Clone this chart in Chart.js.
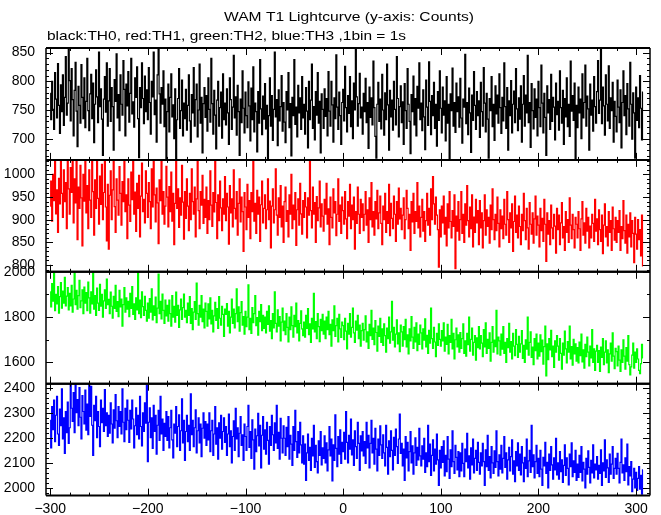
<!DOCTYPE html>
<html>
<head>
<meta charset="utf-8">
<script src="https://cdn.jsdelivr.net/npm/chart.js@4.4.1/dist/chart.umd.min.js"></script>
<style>
  html, body { margin: 0; padding: 0; background: #fff; }
  canvas { display: block; }
</style>
</head>
<body>
<canvas id="lightcurve" width="661" height="515"></canvas>
<script>
const titleText = "WAM T1 Lightcurve (y-axis: Counts)";
const subtitleText = "black:TH0, red:TH1, green:TH2, blue:TH3 ,1bin = 1s";

// time of first bin (s), 1 bin = 1 s
const binStart = -300;
const binSize = 1;

// counts per bin (20 bins per row)
const th0Counts = [
  779, 733, 800, 751, 716, 815, 769, 736, 831, 758, 709, 794, 747, 811, 723, 772, 843, 741, 762, 858,
  801, 731, 822, 768, 705, 784, 833, 748, 686, 791, 758, 727, 829, 772, 735, 806, 719, 765, 840, 749,
  714, 778, 812, 735, 797, 693, 760, 820, 773, 728, 851, 756, 787, 734, 671, 769, 808, 746, 832, 722,
  766, 822, 730, 789, 756, 680, 803, 765, 848, 736, 777, 714, 811, 760, 741, 836, 786, 705, 795, 757,
  817, 729, 779, 840, 743, 764, 720, 806, 772, 825, 735, 667, 789, 754, 832, 770, 726, 809, 747, 785,
  733, 824, 763, 708, 800, 773, 851, 742, 767, 694, 811, 858, 778, 727, 789, 760, 818, 721, 769, 664,
  747, 795, 712, 772, 813, 738, 759, 700, 787, 664, 733, 770, 822, 718, 749, 802, 705, 762, 735, 786,
  715, 758, 811, 731, 694, 777, 745, 824, 722, 768, 795, 703, 750, 830, 727, 772, 675, 761, 789, 737,
  775, 713, 806, 751, 729, 840, 761, 708, 784, 741, 682, 767, 800, 722, 754, 781, 701, 813, 733, 762,
  724, 787, 745, 690, 806, 768, 716, 755, 845, 736, 773, 706, 793, 747, 671, 769, 728, 818, 753, 710,
  781, 740, 719, 799, 757, 696, 788, 733, 825, 712, 762, 747, 677, 782, 727, 838, 752, 707, 774, 734,
  796, 717, 758, 664, 740, 806, 722, 775, 697, 751, 851, 738, 768, 688, 785, 731, 756, 810, 713, 763,
  729, 693, 782, 750, 815, 719, 761, 670, 772, 740, 838, 725, 755, 703, 793, 745, 771, 716, 808, 736,
  760, 708, 789, 748, 684, 800, 733, 767, 830, 718, 756, 698, 782, 741, 815, 727, 765, 675, 778, 751,
  718, 787, 739, 770, 705, 817, 748, 722, 800, 759, 694, 771, 735, 846, 755, 716, 781, 740, 690, 763,
  786, 731, 826, 754, 712, 775, 744, 808, 721, 766, 700, 797, 750, 862, 773, 722, 761, 814, 736, 755,
  708, 779, 747, 805, 728, 763, 683, 790, 737, 771, 724, 835, 754, 704, 666, 760, 798, 730, 769, 717,
  812, 750, 706, 780, 733, 830, 759, 680, 784, 738, 767, 715, 800, 751, 724, 843, 770, 703, 756, 792,
  728, 764, 690, 796, 749, 718, 822, 760, 730, 674, 777, 747, 809, 724, 770, 705, 791, 753, 832, 733,
  762, 714, 785, 738, 681, 802, 755, 723, 834, 765, 707, 775, 740, 798, 718, 760, 687, 782, 732, 818,
  753, 710, 790, 741, 766, 696, 808, 727, 760, 665, 778, 749, 823, 722, 763, 711, 797, 747, 773, 720,
  805, 736, 692, 769, 755, 847, 726, 763, 707, 788, 745, 676, 776, 732, 817, 758, 716, 782, 740, 766,
  702, 798, 747, 722, 824, 762, 712, 779, 734, 666, 770, 749, 808, 721, 760, 697, 792, 743, 776, 727,
  813, 754, 709, 772, 731, 832, 756, 718, 789, 680, 766, 740, 801, 710, 760, 783, 728, 822, 752, 714,
  771, 734, 792, 694, 760, 810, 722, 776, 745, 845, 728, 763, 685, 796, 749, 717, 787, 737, 769, 705,
  800, 754, 721, 828, 762, 710, 779, 737, 671, 792, 745, 768, 716, 812, 730, 772, 755, 698, 797, 742,
  765, 715, 818, 754, 727, 784, 690, 770, 738, 806, 721, 760, 704, 835, 748, 775, 732, 797, 665, 758,
  719, 790, 745, 769, 700, 813, 736, 763, 828, 722, 774, 752, 680, 795, 741, 767, 713, 808, 756, 727,
  782, 836, 744, 767, 858, 726, 790, 757, 706, 811, 760, 731, 827, 718, 771, 749, 798, 694, 765, 739,
  712, 802, 755, 728, 785, 684, 763, 818, 740, 775, 707, 796, 752, 722, 833, 760, 699, 780, 745, 666,
  790, 732, 771, 719, 810, 753, 698, 781
];

const th1Counts = [
  930, 985, 897, 1000, 942, 1032, 913, 966, 872, 991, 935, 1032, 958, 905, 1010, 940, 982, 880, 1032, 968,
  912, 1015, 960, 1032, 893, 990, 937, 1032, 856, 972, 925, 1020, 948, 842, 1000, 941, 1032, 915, 975, 880,
  1010, 943, 905, 1032, 962, 866, 988, 925, 1032, 947, 890, 996, 934, 1022, 900, 960, 1032, 928, 853, 978,
  835, 954, 1008, 900, 966, 1032, 929, 872, 990, 943, 910, 1017, 958, 888, 984, 940, 1032, 918, 955, 858,
  990, 932, 896, 1005, 944, 1032, 912, 961, 874, 980, 925, 998, 862, 952, 1025, 918, 945, 893, 1008, 958,
  905, 982, 940, 880, 1012, 928, 1032, 955, 895, 970, 937, 847, 988, 942, 1030, 912, 962, 890, 930, 1018,
  950, 884, 973, 918, 1005, 897, 958, 845, 936, 1032, 925, 968, 883, 948, 910, 1020, 939, 857, 962, 903,
  990, 930, 876, 958, 900, 1012, 940, 912, 972, 862, 946, 1032, 920, 880, 962, 932, 998, 892, 945, 905,
  972, 870, 942, 900, 1008, 932, 885, 960, 917, 1032, 938, 858, 955, 898, 985, 926, 876, 946, 912, 995,
  898, 958, 928, 846, 975, 915, 946, 884, 1010, 925, 902, 962, 866, 936, 990, 895, 950, 918, 830, 960,
  928, 878, 978, 905, 942, 858, 960, 918, 1030, 897, 936, 870, 965, 912, 950, 852, 933, 985, 893, 925,
  955, 880, 922, 990, 900, 941, 838, 930, 968, 893, 922, 1012, 910, 866, 948, 905, 975, 884, 930, 850,
  940, 972, 896, 920, 862, 955, 912, 1000, 880, 932, 900, 960, 843, 922, 946, 888, 980, 913, 868, 942,
  905, 960, 928, 860, 948, 910, 1032, 920, 882, 972, 912, 938, 850, 951, 898, 926, 985, 884, 935, 908,
  875, 945, 912, 980, 890, 924, 845, 950, 905, 882, 968, 915, 940, 865, 912, 990, 896, 932, 870, 950,
  920, 890, 962, 902, 858, 940, 908, 978, 880, 932, 900, 950, 835, 918, 892, 972, 912, 870, 945, 905,
  935, 876, 912, 962, 888, 922, 850, 948, 900, 982, 884, 918, 866, 940, 902, 965, 880, 915, 952, 892,
  845, 930, 900, 958, 872, 918, 892, 978, 865, 936, 903, 880, 952, 912, 852, 940, 890, 970, 902, 925,
  878, 910, 948, 858, 900, 965, 925, 880, 912, 832, 940, 895, 958, 870, 918, 896, 982, 882, 930, 862,
  905, 945, 875, 918, 852, 898, 958, 888, 925, 866, 968, 900, 995, 935, 890, 950, 910, 878, 795, 922,
  862, 930, 893, 952, 868, 905, 842, 935, 882, 962, 896, 860, 920, 885, 955, 792, 908, 875, 940, 855,
  900, 962, 870, 912, 850, 935, 888, 975, 898, 862, 928, 880, 955, 840, 906, 872, 945, 893, 920, 845,
  942, 882, 915, 838, 898, 955, 866, 922, 885, 905, 848, 932, 878, 968, 900, 856, 912, 876, 950, 892,
  840, 922, 880, 908, 858, 945, 890, 866, 962, 900, 850, 915, 882, 935, 830, 896, 952, 872, 910, 860,
  930, 885, 845, 912, 876, 958, 898, 856, 925, 882, 835, 938, 890, 868, 915, 848, 902, 952, 866, 908,
  888, 840, 925, 876, 903, 852, 945, 890, 808, 915, 868, 898, 845, 932, 882, 858, 912, 886, 826, 925,
  878, 910, 845, 893, 938, 860, 885, 832, 918, 872, 900, 850, 948, 888, 858, 912, 878, 838, 905, 890,
  860, 918, 880, 832, 902, 940, 866, 893, 848, 925, 875, 905, 838, 886, 860, 912, 892, 852, 945, 875,
  902, 845, 922, 878, 852, 910, 825, 888, 935, 862, 885, 842, 918, 872, 898, 832, 928, 880, 855, 905,
  850, 898, 872, 920, 832, 885, 858, 942, 876, 848, 910, 826, 890, 862, 915, 840, 898, 870, 805, 905,
  868, 835, 900, 856, 878, 820, 910, 798
];

const th2Counts = [
  1912, 1845, 1948, 1870, 2000, 1828, 1900, 1858, 1935, 1818, 1890, 1952, 1840, 1915, 1862, 1975, 1850, 1893, 1930, 1832,
  1905, 1850, 1940, 1822, 1880, 2000, 1855, 1918, 1835, 1895, 1962, 1842, 1872, 1920, 1815, 1932, 1862, 1908, 1828, 1955,
  1885, 1818, 1912, 1858, 2000, 1835, 1895, 1808, 1928, 1862, 1830, 1945, 1848, 1900, 1800, 1872, 1920, 1838, 1968, 1855,
  1878, 1815, 1910, 1848, 1795, 1892, 1838, 1940, 1825, 1868, 1802, 1918, 1845, 1880, 1760, 1855, 1930, 1822, 1885, 1835,
  1870, 1802, 1905, 1838, 1935, 1812, 1858, 1790, 1885, 1832, 2000, 1815, 1875, 1798, 1912, 1846, 1808, 1892, 1830, 1782,
  1862, 1795, 1882, 1822, 1925, 1788, 1850, 1808, 1888, 1775, 1840, 1990, 1815, 1870, 1792, 1902, 1830, 1772, 1875, 1805,
  1852, 1782, 1875, 1815, 1760, 1895, 1800, 1848, 1778, 1910, 1808, 1852, 1755, 1832, 1880, 1790, 1842, 1902, 1800, 1830,
  1775, 1862, 1808, 1890, 1772, 1838, 1745, 1822, 1868, 1790, 1950, 1815, 1765, 1852, 1800, 1895, 1780, 1835, 1752, 1862,
  1825, 1760, 1858, 1792, 1885, 1770, 1830, 1735, 1805, 1865, 1785, 1838, 1750, 1890, 1795, 1765, 1848, 1812, 1715, 1835,
  1812, 1860, 1760, 1825, 1730, 1800, 1880, 1772, 1835, 1752, 1815, 1925, 1780, 1845, 1738, 1820, 1868, 1765, 1802, 1725,
  1825, 1758, 1800, 1942, 1745, 1795, 1728, 1842, 1775, 1815, 1895, 1762, 1798, 1720, 1825, 1780, 1855, 1740, 1808, 1750,
  1800, 1730, 1825, 1768, 1850, 1738, 1785, 1705, 1815, 1752, 1912, 1772, 1735, 1832, 1760, 1802, 1695, 1778, 1840, 1740,
  1782, 1722, 1815, 1755, 1690, 1800, 1745, 1845, 1762, 1712, 1808, 1758, 1862, 1730, 1785, 1695, 1772, 1828, 1748, 1718,
  1778, 1712, 1808, 1750, 1838, 1722, 1770, 1688, 1795, 1748, 1905, 1735, 1780, 1705, 1815, 1758, 1692, 1790, 1740, 1812,
  1725, 1782, 1705, 1800, 1745, 1825, 1722, 1768, 1672, 1788, 1740, 1850, 1715, 1762, 1795, 1690, 1812, 1748, 1710, 1778,
  1762, 1700, 1795, 1738, 1660, 1772, 1725, 1815, 1712, 1755, 1840, 1730, 1688, 1782, 1742, 1808, 1705, 1765, 1672, 1740,
  1772, 1698, 1745, 1805, 1690, 1735, 1662, 1768, 1718, 1830, 1702, 1752, 1678, 1785, 1732, 1650, 1760, 1715, 1795, 1688,
  1748, 1675, 1770, 1718, 1645, 1752, 1705, 1800, 1685, 1735, 1870, 1698, 1755, 1668, 1725, 1788, 1682, 1730, 1648, 1765,
  1735, 1672, 1758, 1700, 1790, 1668, 1722, 1638, 1748, 1695, 1802, 1712, 1662, 1755, 1690, 1775, 1652, 1725, 1680, 1765,
  1730, 1660, 1748, 1698, 1792, 1668, 1720, 1640, 1742, 1685, 1840, 1705, 1662, 1755, 1690, 1625, 1728, 1675, 1770, 1702,
  1672, 1740, 1695, 1775, 1650, 1712, 1680, 1768, 1638, 1718, 1688, 1790, 1660, 1728, 1615, 1700, 1752, 1668, 1722, 1645,
  1732, 1662, 1705, 1770, 1640, 1695, 1628, 1728, 1678, 1800, 1650, 1702, 1752, 1632, 1688, 1718, 1610, 1708, 1665, 1758,
  1660, 1718, 1685, 1625, 1745, 1668, 1775, 1640, 1702, 1662, 1730, 1605, 1688, 1758, 1645, 1698, 1670, 1830, 1638, 1712,
  1695, 1632, 1725, 1658, 1758, 1640, 1688, 1600, 1705, 1665, 1772, 1645, 1692, 1615, 1728, 1672, 1630, 1745, 1680, 1622,
  1715, 1645, 1682, 1740, 1618, 1675, 1600, 1700, 1658, 1800, 1632, 1688, 1735, 1622, 1668, 1590, 1705, 1652, 1725, 1615,
  1685, 1628, 1722, 1648, 1698, 1592, 1670, 1760, 1540, 1682, 1612, 1705, 1655, 1742, 1625, 1672, 1578, 1695, 1645, 1718,
  1672, 1610, 1705, 1640, 1570, 1685, 1632, 1738, 1660, 1598, 1692, 1645, 1760, 1615, 1670, 1588, 1702, 1638, 1682, 1605,
  1665, 1598, 1690, 1630, 1725, 1602, 1655, 1575, 1680, 1625, 1712, 1645, 1585, 1672, 1620, 1745, 1600, 1660, 1565, 1650,
  1675, 1600, 1652, 1560, 1668, 1622, 1705, 1590, 1645, 1695, 1598, 1655, 1555, 1638, 1685, 1605, 1730, 1628, 1572, 1662,
  1648, 1585, 1672, 1610, 1560, 1655, 1600, 1700, 1628, 1570, 1665, 1605, 1718, 1590, 1545, 1580, 1632, 1685, 1575, 1645,
  1600, 1660, 1615, 1565, 1550, 1595, 1680, 1620
];

const th3Counts = [
  2270, 2160, 2325, 2232, 2350, 2185, 2290, 2365, 2215, 2170, 2315, 2248, 2395, 2195, 2280, 2138, 2305, 2220, 2342, 2178,
  2240, 2416, 2318, 2265, 2380, 2220, 2416, 2300, 2352, 2248, 2400, 2282, 2195, 2368, 2305, 2255, 2390, 2230, 2335, 2212,
  2416, 2285, 2405, 2250, 2130, 2330, 2268, 2365, 2200, 2305, 2245, 2165, 2350, 2260, 2318, 2225, 2392, 2248, 2300, 2205,
  2290, 2218, 2340, 2255, 2180, 2312, 2238, 2372, 2268, 2200, 2325, 2245, 2305, 2215, 2395, 2262, 2185, 2318, 2232, 2350,
  2270, 2182, 2310, 2235, 2350, 2275, 2160, 2248, 2320, 2212, 2290, 2195, 2365, 2245, 2168, 2300, 2225, 2340, 2258, 2410,
  2105, 2262, 2320, 2200, 2280, 2158, 2330, 2225, 2290, 2135, 2250, 2310, 2190, 2365, 2215, 2275, 2150, 2258, 2205, 2305,
  2190, 2285, 2160, 2240, 2310, 2192, 2120, 2255, 2218, 2325, 2165, 2245, 2292, 2150, 2228, 2355, 2180, 2270, 2110, 2225,
  2290, 2185, 2250, 2150, 2375, 2212, 2270, 2165, 2240, 2312, 2140, 2228, 2280, 2180, 2255, 2125, 2238, 2300, 2198, 2265,
  2170, 2255, 2192, 2300, 2145, 2228, 2270, 2130, 2215, 2325, 2175, 2240, 2115, 2260, 2198, 2290, 2155, 2225, 2280, 2182,
  2245, 2130, 2215, 2295, 2165, 2228, 2100, 2205, 2268, 2150, 2318, 2195, 2240, 2125, 2218, 2285, 2170, 2212, 2110, 2255,
  2205, 2150, 2245, 2330, 2162, 2225, 2118, 2272, 2192, 2075, 2235, 2145, 2208, 2298, 2168, 2250, 2080, 2210, 2285, 2155,
  2232, 2135, 2262, 2190, 2095, 2245, 2170, 2290, 2212, 2150, 2260, 2180, 2330, 2158, 2222, 2115, 2278, 2198, 2140, 2248,
  2198, 2130, 2242, 2165, 2285, 2115, 2210, 2175, 2090, 2245, 2150, 2310, 2185, 2122, 2225, 2140, 2262, 2172, 2100, 2208,
  2095, 2175, 2030, 2140, 2215, 2110, 2162, 2070, 2198, 2128, 2250, 2082, 2170, 2105, 2060, 2188, 2130, 2225, 2092, 2160,
  2118, 2208, 2100, 2180, 2068, 2152, 2245, 2128, 2195, 2028, 2172, 2110, 2292, 2158, 2085, 2205, 2135, 2232, 2098, 2182,
  2145, 2222, 2115, 2305, 2182, 2100, 2210, 2155, 2275, 2132, 2192, 2090, 2228, 2165, 2118, 2262, 2178, 2070, 2208, 2148,
  2225, 2128, 2185, 2098, 2262, 2160, 2210, 2080, 2178, 2270, 2140, 2198, 2095, 2238, 2155, 2068, 2195, 2130, 2248, 2172,
  2118, 2212, 2140, 2088, 2250, 2162, 2055, 2188, 2125, 2228, 2150, 2072, 2202, 2130, 2235, 2165, 2098, 2195, 2295, 2138,
  2178, 2088, 2155, 2030, 2205, 2120, 2182, 2068, 2145, 2225, 2100, 2168, 2055, 2140, 2200, 2090, 2162, 2112, 2238, 2128,
  2088, 2168, 2115, 2198, 2062, 2140, 2085, 2250, 2105, 2175, 2050, 2130, 2192, 2068, 2155, 2095, 2215, 2112, 2010, 2150,
  2080, 2165, 2102, 2188, 2048, 2130, 2065, 2205, 2115, 2038, 2152, 2085, 2228, 2105, 2058, 2170, 2122, 2072, 2145, 2045,
  2140, 2068, 2178, 2098, 2045, 2155, 2105, 2218, 2080, 2128, 2035, 2160, 2092, 2195, 2060, 2118, 2150, 2070, 2182, 2102,
  2055, 2140, 2088, 2178, 2105, 2010, 2152, 2085, 2210, 2070, 2125, 2040, 2165, 2100, 2058, 2148, 2082, 2228, 2105, 2048,
  2132, 2075, 2170, 2060, 2118, 2205, 2082, 2140, 2035, 2112, 2162, 2068, 2125, 2192, 2055, 2108, 2025, 2145, 2088, 2180,
  2070, 2135, 2052, 2165, 2100, 2025, 2122, 2078, 2195, 2045, 2108, 2150, 2062, 2250, 2085, 2132, 2040, 2105, 2170, 2058,
  2118, 2045, 2150, 2075, 2010, 2122, 2088, 2182, 2058, 2102, 2000, 2135, 2070, 2165, 2092, 2035, 2120, 2072, 2198, 2052,
  2100, 2035, 2145, 2065, 2112, 2022, 2090, 2172, 2050, 2120, 2078, 2012, 2135, 2085, 2180, 2045, 2108, 2062, 2150, 2030,
  2095, 2042, 2130, 2062, 2165, 2028, 2102, 2075, 2000, 2118, 2055, 2148, 2082, 2020, 2110, 2060, 2172, 2040, 2095, 2072,
  2125, 2035, 2090, 2058, 2152, 2010, 2100, 2068, 2192, 2042, 2112, 2080, 2022, 2135, 2055, 2095, 2165, 2038, 2078, 2118,
  2055, 2138, 2078, 2020, 2102, 2195, 2060, 2092, 2030, 2120, 2065, 2175, 2012, 2085, 2048, 2105, 1985, 2035, 2078, 2000,
  2062, 1990, 2038, 2085, 1995, 2050, 1975, 2072
];

const toPoints = (counts) => counts.map((c, i) => ({ x: binStart + i * binSize, y: c }));

// panels from top to bottom
const panels = [
  { id: "y0", counts: th0Counts, color: "#000000", min: 663, max: 858, step: 50, minor: 10 },
  { id: "y1", counts: th1Counts, color: "#ff0000", min: 785, max: 1032, step: 50, minor: 10 },
  { id: "y2", counts: th2Counts, color: "#00ff00", min: 1506, max: 2000, step: 200, minor: 100 },
  { id: "y3", counts: th3Counts, color: "#0000ff", min: 1969, max: 2416, step: 100, minor: 20 },
];

const tickFont = { family: "Liberation Sans", size: 14 };

const scales = {
  x: {
    type: "linear",
    position: "bottom",
    min: -304.3,
    max: 314.2,
    grid: { display: false, drawTicks: false },
    border: { display: false },
    ticks: {
      stepSize: 100,
      includeBounds: false,
      padding: 5,
      color: "#000",
      font: tickFont,
      maxRotation: 0,
      callback: (v) => (v < 0 ? "\u2212" + Math.abs(v) : String(v)),
    },
    afterFit: (scale) => { scale.height = 19; },
  },
};
// the last stacked axis declared ends up on top, so add them bottom-up
panels.slice().reverse().forEach((p) => {
  scales[p.id] = {
    type: "linear",
    position: "left",
    stack: "lightcurve",
    stackWeight: 1,
    min: p.min,
    max: p.max,
    grid: { display: false, drawTicks: false },
    border: { display: false },
    ticks: {
      stepSize: p.step,
      includeBounds: false,
      padding: 11,
      color: "#000",
      font: tickFont,
      autoSkip: false,
      callback: (v) => String(v),
    },
    afterFit: (scale) => { scale.width = 46; },
  };
});

const framePlugin = {
  id: "frame",
  beforeDatasetDraw(chart, args) {
    const a = chart.chartArea;
    const y = args.meta.yScale;
    const ctx = chart.ctx;
    ctx.save();
    ctx.beginPath();
    ctx.rect(a.left, y.top, a.right - a.left, y.bottom - y.top);
    ctx.clip();
  },
  afterDatasetDraw(chart) {
    chart.ctx.restore();
  },
  afterDraw(chart) {
    const ctx = chart.ctx;
    const a = chart.chartArea;
    const xs = chart.scales.x;
    ctx.save();
    ctx.strokeStyle = "#000";
    panels.forEach((p) => {
      const ys = chart.scales[p.id];
      ctx.lineWidth = 1;
      ctx.beginPath();
      for (let v = Math.ceil(ys.min / p.minor) * p.minor; v <= ys.max; v += p.minor) {
        const py = Math.round(ys.getPixelForValue(v)) + 0.5;
        const len = v % p.step === 0 ? 7 : 3;
        ctx.moveTo(a.left, py); ctx.lineTo(a.left + len, py);
        ctx.moveTo(a.right, py); ctx.lineTo(a.right - len, py);
      }
      for (let v = Math.ceil(xs.min / 20) * 20; v <= xs.max; v += 20) {
        const px = Math.round(xs.getPixelForValue(v)) + 0.5;
        const len = v % 100 === 0 ? 7 : 3;
        ctx.moveTo(px, ys.top); ctx.lineTo(px, ys.top + len);
        ctx.moveTo(px, ys.bottom); ctx.lineTo(px, ys.bottom - len);
      }
      ctx.stroke();
      ctx.lineWidth = 2;
      ctx.beginPath();
      ctx.moveTo(a.left, ys.top); ctx.lineTo(a.right, ys.top);
      ctx.moveTo(a.left, ys.bottom); ctx.lineTo(a.right, ys.bottom);
      ctx.stroke();
    });
    ctx.lineWidth = 1.5;
    ctx.beginPath();
    ctx.moveTo(a.left, a.top); ctx.lineTo(a.left, a.bottom);
    ctx.moveTo(a.right, a.top); ctx.lineTo(a.right, a.bottom);
    ctx.stroke();

    // title lines, stretched to the width they take in the original plot
    const drawText = (text, x, y, width) => {
      ctx.font = '13px "Liberation Sans"';
      const w = ctx.measureText(text).width;
      ctx.save();
      ctx.translate(x, y);
      ctx.scale(width / w, 1);
      ctx.fillStyle = "#000";
      ctx.textAlign = "left";
      ctx.textBaseline = "alphabetic";
      ctx.fillText(text, 0, 0);
      ctx.restore();
    };
    drawText(titleText, 224, 21, 250);
    drawText(subtitleText, 47, 39.5, 359);
    ctx.restore();
  },
};

new Chart(document.getElementById("lightcurve"), {
  type: "line",
  data: {
    datasets: panels.map((p) => ({
      label: p.id,
      data: toPoints(p.counts),
      yAxisID: p.id,
      borderColor: p.color,
      borderWidth: 1.2,
      stepped: "middle",
      pointRadius: 0,
      fill: false,
    })),
  },
  options: {
    responsive: false,
    animation: false,
    events: [],
    layout: { padding: { left: 0, right: 11, top: 48, bottom: 0 } },
    plugins: {
      legend: { display: false },
      title: { display: false },
      tooltip: { enabled: false },
    },
    scales,
  },
  plugins: [framePlugin],
});
</script>
</body>
</html>
